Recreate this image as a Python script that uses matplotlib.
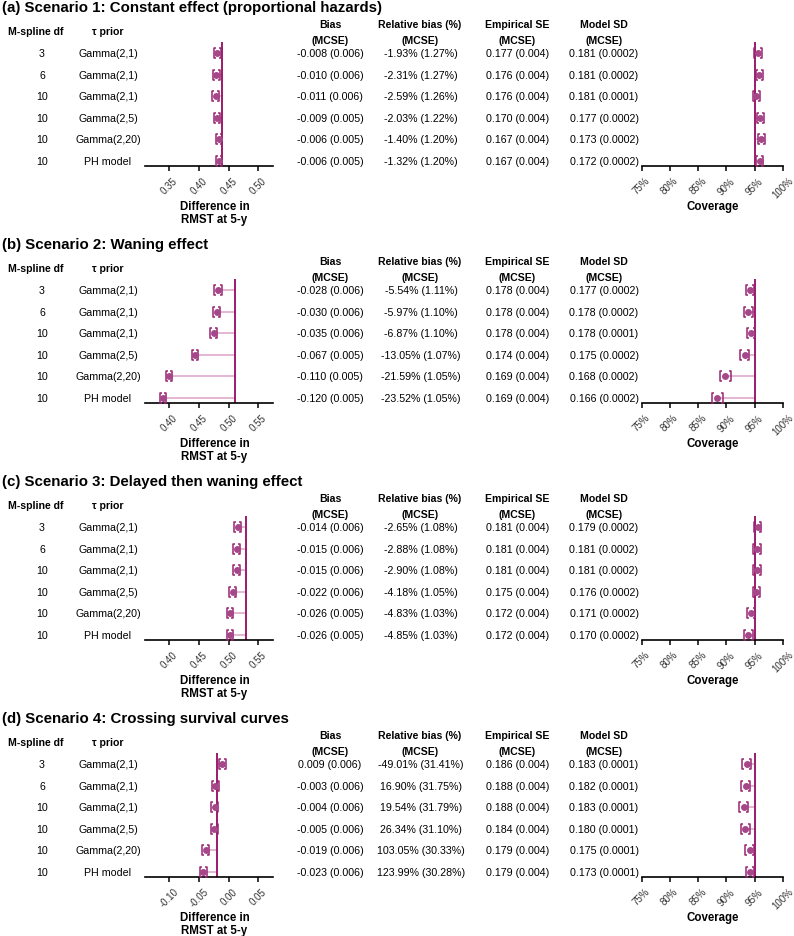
import matplotlib
matplotlib.use("Agg")
import matplotlib.pyplot as plt
from matplotlib.path import Path

plt.rcParams["font.family"] = ["Liberation Sans", "DejaVu Sans"]

W, H = 794, 937

titles = ["(a) Scenario 1: Constant effect (proportional hazards)",
          "(b) Scenario 2: Waning effect",
          "(c) Scenario 3: Delayed then waning effect",
          "(d) Scenario 4: Crossing survival curves"]
spline_df = ["3", "6", "10", "10", "10", "10"]
tau_prior = ["Gamma(2,1)", "Gamma(2,1)", "Gamma(2,1)", "Gamma(2,5)", "Gamma(2,20)", "PH model"]

true_rmst = [0.439, 0.510, 0.529, -0.0195]

bias = [[-0.008, -0.010, -0.011, -0.009, -0.006, -0.006],
        [-0.028, -0.030, -0.035, -0.067, -0.110, -0.120],
        [-0.014, -0.015, -0.015, -0.022, -0.026, -0.026],
        [0.009, -0.003, -0.004, -0.005, -0.019, -0.023]]
bias_mcse = [[0.006, 0.006, 0.006, 0.005, 0.005, 0.005],
             [0.006, 0.006, 0.006, 0.005, 0.005, 0.005],
             [0.006, 0.006, 0.006, 0.006, 0.005, 0.005],
             [0.006, 0.006, 0.006, 0.006, 0.006, 0.006]]
rel_bias = [[-1.93, -2.31, -2.59, -2.03, -1.40, -1.32],
            [-5.54, -5.97, -6.87, -13.05, -21.59, -23.52],
            [-2.65, -2.88, -2.90, -4.18, -4.83, -4.85],
            [-49.01, 16.90, 19.54, 26.34, 103.05, 123.99]]
rel_mcse = [[1.27, 1.27, 1.26, 1.22, 1.20, 1.20],
            [1.11, 1.10, 1.10, 1.07, 1.05, 1.05],
            [1.08, 1.08, 1.08, 1.05, 1.03, 1.03],
            [31.41, 31.75, 31.79, 31.10, 30.33, 30.28]]
emp_se = [[0.177, 0.176, 0.176, 0.170, 0.167, 0.167],
          [0.178, 0.178, 0.178, 0.174, 0.169, 0.169],
          [0.181, 0.181, 0.181, 0.175, 0.172, 0.172],
          [0.186, 0.188, 0.188, 0.184, 0.179, 0.179]]
emp_mcse = 0.004
mod_sd = [[0.181, 0.181, 0.181, 0.177, 0.173, 0.172],
          [0.177, 0.178, 0.178, 0.175, 0.168, 0.166],
          [0.179, 0.181, 0.181, 0.176, 0.171, 0.170],
          [0.183, 0.182, 0.183, 0.180, 0.175, 0.173]]
mod_mcse = [["0.0002", "0.0002", "0.0001", "0.0002", "0.0002", "0.0002"],
            ["0.0002", "0.0002", "0.0001", "0.0002", "0.0002", "0.0002"],
            ["0.0002"] * 6,
            ["0.0001"] * 6]

coverage = [[95.6, 95.8, 95.3, 96.0, 96.2, 95.9],
            [94.2, 93.9, 94.4, 93.2, 89.8, 88.4],
            [95.5, 95.4, 95.4, 95.3, 94.4, 93.9],
            [93.6, 93.4, 93.1, 93.3, 94.1, 94.2]]
cov_mcse = [[0.65, 0.63, 0.67, 0.62, 0.60, 0.63],
            [0.74, 0.76, 0.72, 0.80, 0.96, 1.01],
            [0.66, 0.66, 0.66, 0.67, 0.73, 0.76],
            [0.77, 0.79, 0.80, 0.79, 0.75, 0.74]]

forest_ticks = [[0.35, 0.40, 0.45, 0.50],
                [0.40, 0.45, 0.50, 0.55],
                [0.40, 0.45, 0.50, 0.55],
                [-0.10, -0.05, 0.00, 0.05]]
cov_ticks = [75, 80, 85, 90, 95, 100]
nominal = 95

DARK = "#9b1b6b"
PT = "#a6478a"
BR = "#9a2472"
PINK = "#dca3c9"

lbr = Path([(0.4, 1), (0, 1), (0, -1), (0.4, -1)],
           [Path.MOVETO, Path.LINETO, Path.LINETO, Path.LINETO])
rbr = Path([(-0.4, 1), (0, 1), (0, -1), (-0.4, -1)],
           [Path.MOVETO, Path.LINETO, Path.LINETO, Path.LINETO])


def fx(x):
    return x / W


def fy(y):
    return 1 - y / H


def style_axis(ax, ticks, labels, xlim, ylim):
    ax.set_xlim(*xlim)
    ax.set_ylim(*ylim)
    for s in ("left", "right", "top"):
        ax.spines[s].set_visible(False)
    ax.spines["bottom"].set_linewidth(1.2)
    ax.set_yticks([])
    ax.set_xticks(ticks)
    ax.set_xticklabels(labels, rotation=45, fontsize=7, color="#333333")
    ax.tick_params(axis="x", length=3.5, width=1.1, pad=3)
    ax.patch.set_alpha(0)


def draw_marks(ax, est, err, ref, rows):
    ax.hlines(rows, est, [ref] * len(rows), color=PINK, lw=1.1, zorder=1)
    ax.axvline(ref, color=DARK, lw=1.4, zorder=2)
    lo = [e - m for e, m in zip(est, err)]
    hi = [e + m for e, m in zip(est, err)]
    ax.plot(lo, rows, ls="none", marker=lbr, ms=7.2, mfc="none", mec=BR, mew=1.1, zorder=3)
    ax.plot(hi, rows, ls="none", marker=rbr, ms=7.2, mfc="none", mec=BR, mew=1.1, zorder=3)
    ax.plot(est, rows, ls="none", marker="o", ms=5, color=PT, mew=0, zorder=4)


fig = plt.figure(figsize=(W / 100, H / 100), dpi=100)

ROW = 21.6
row1 = [54, 291, 528, 765]
rows = list(range(6))
ylim = (113 / ROW, -11 / ROW)
FS = 7.7

for k in range(4):
    r1 = row1[k]
    fig.text(fx(2), fy(r1 - 46), titles[k], ha="left", va="center",
             fontsize=10.8, fontweight="bold")
    fig.text(fx(36), fy(r1 - 22), "M-spline df", ha="center", va="center",
             fontsize=7.6, fontweight="bold")
    fig.text(fx(108), fy(r1 - 22), "τ prior", ha="center", va="center",
             fontsize=7.6, fontweight="bold")
    heads = [(330, "Bias"), (420, "Relative bias (%)"), (517, "Empirical SE"), (604, "Model SD")]
    for x, h in heads:
        fig.text(fx(x), fy(r1 - 29), h, ha="center", va="center", fontsize=7.6, fontweight="bold")
        fig.text(fx(x), fy(r1 - 13), "(MCSE)", ha="center", va="center", fontsize=7.6, fontweight="bold")

    for i in rows:
        y = fy(r1 + ROW * i)
        fig.text(fx(42), y, spline_df[i], ha="center", va="center", fontsize=FS)
        fig.text(fx(108), y, tau_prior[i], ha="center", va="center", fontsize=FS)
        fig.text(fx(330), y, f"{bias[k][i]:.3f} ({bias_mcse[k][i]:.3f})",
                 ha="center", va="center", fontsize=FS)
        fig.text(fx(421), y, f"{rel_bias[k][i]:.2f}% ({rel_mcse[k][i]:.2f}%)",
                 ha="center", va="center", fontsize=FS)
        fig.text(fx(518), y, f"{emp_se[k][i]:.3f} ({emp_mcse:.3f})",
                 ha="center", va="center", fontsize=FS)
        fig.text(fx(604), y, f"{mod_sd[k][i]:.3f} ({mod_mcse[k][i]})",
                 ha="center", va="center", fontsize=FS)

    bottom = fy(r1 + 113)
    height = 124 / H

    # forest of RMST difference
    ax = fig.add_axes([fx(145), bottom, 128.3 / W, height])
    t0 = forest_ticks[k][0]
    style_axis(ax, forest_ticks[k], [f"{t:.2f}" for t in forest_ticks[k]],
               (t0 - 0.041, t0 + 0.1753), ylim)
    est = [true_rmst[k] + b for b in bias[k]]
    draw_marks(ax, est, bias_mcse[k], true_rmst[k], rows)
    fig.text(fx(214.5), fy(r1 + 153), "Difference in", ha="center", va="center",
             fontsize=8.3, fontweight="bold")
    fig.text(fx(214.5), fy(r1 + 166), "RMST at 5-y", ha="center", va="center",
             fontsize=8.3, fontweight="bold")

    # coverage
    axc = fig.add_axes([fx(641.5), bottom, 141.5 / W, height])
    style_axis(axc, cov_ticks, [f"{t}%" for t in cov_ticks], (75, 100), ylim)
    draw_marks(axc, coverage[k], cov_mcse[k], nominal, rows)
    fig.text(fx(712.5), fy(r1 + 153), "Coverage", ha="center", va="center",
             fontsize=8.3, fontweight="bold")

fig.savefig("out.png", dpi=100)
